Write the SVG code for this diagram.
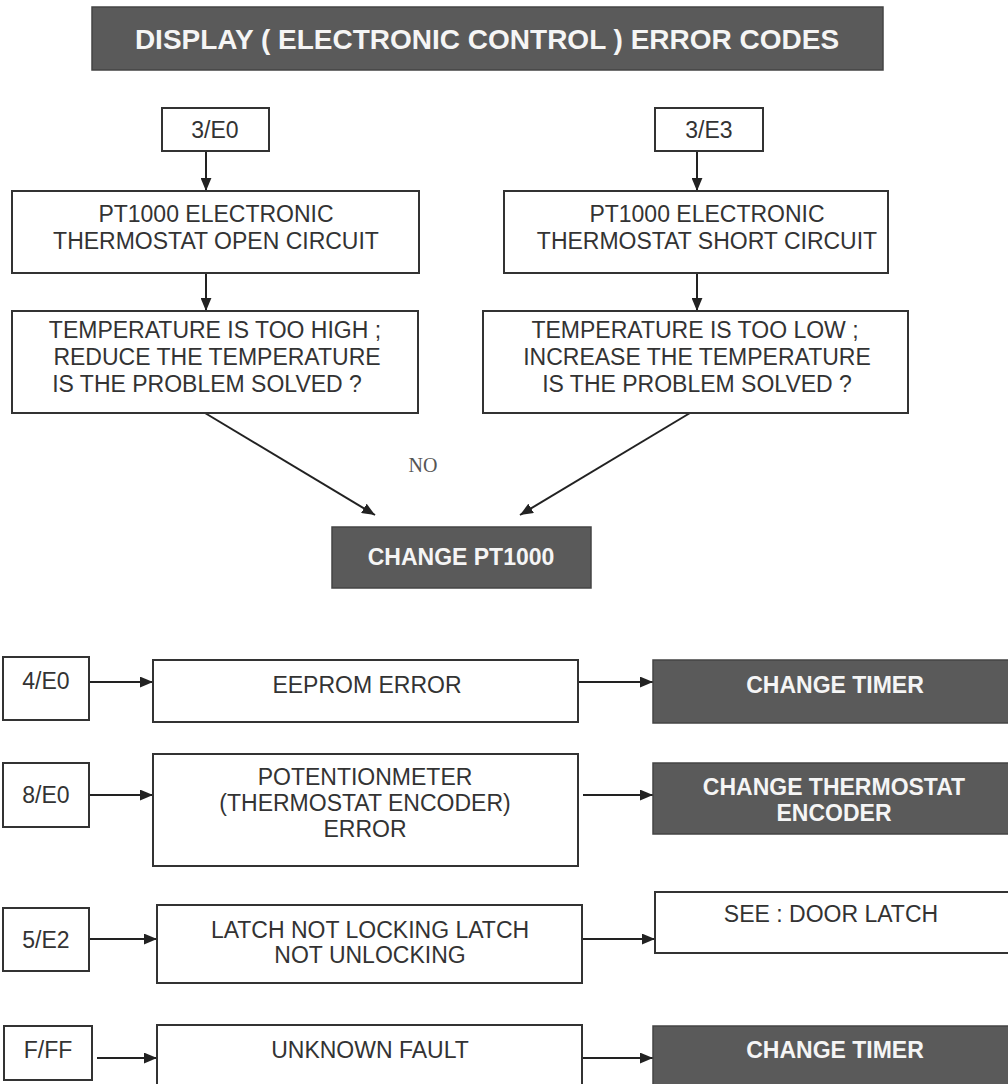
<svg xmlns="http://www.w3.org/2000/svg" width="1008" height="1084" viewBox="0 0 1008 1084">
<defs>
<style>
.box{fill:#fff;stroke:#333;stroke-width:2}
.dark{fill:#5a5a5a;stroke:#444;stroke-width:1.5}
.t{font-family:"Liberation Sans",Arial,sans-serif;font-size:23px;fill:#333;text-anchor:middle}
.w{font-family:"Liberation Sans",Arial,sans-serif;font-size:23px;font-weight:bold;fill:#f5f5f5;text-anchor:middle}
.c{fill:none;stroke:#222;stroke-width:2;marker-end:url(#ah)}
</style>
<marker id="ah" viewBox="0 0 12 10" refX="12" refY="5" markerWidth="13" markerHeight="11" markerUnits="userSpaceOnUse" orient="auto">
<path d="M0,0 L12,5 L0,10 z" fill="#222"/>
</marker>
</defs>
<rect width="1008" height="1084" fill="#fff"/>

<g id="title">
<rect class="dark" x="92" y="7" width="791" height="63"/>
<text class="w" x="487" y="49" style="font-size:28px">DISPLAY ( ELECTRONIC CONTROL ) ERROR CODES</text>
</g>

<g id="connectors">
<line class="c" x1="206" y1="151" x2="206" y2="191"/>
<line class="c" x1="206" y1="273" x2="206" y2="311"/>
<line class="c" x1="697" y1="151" x2="697" y2="191"/>
<line class="c" x1="697" y1="273" x2="697" y2="311"/>
<line class="c" x1="205" y1="413" x2="375" y2="515"/>
<line class="c" x1="690" y1="413" x2="520" y2="515"/>
<line class="c" x1="89" y1="682" x2="153" y2="682"/>
<line class="c" x1="578" y1="682" x2="653" y2="682"/>
<line class="c" x1="89" y1="795" x2="153" y2="795"/>
<line class="c" x1="583" y1="795" x2="653" y2="795"/>
<line class="c" x1="89" y1="939" x2="157" y2="939"/>
<line class="c" x1="582" y1="939" x2="655" y2="939"/>
<line class="c" x1="97" y1="1058" x2="157" y2="1058"/>
<line class="c" x1="582" y1="1058" x2="653" y2="1058"/>
<text x="423" y="472" style="font-family:'Liberation Serif','Times New Roman',serif;font-size:20px;fill:#555;text-anchor:middle">NO</text>
</g>

<g id="n-3e0">
<rect class="box" x="162" y="108" width="107" height="43"/>
<text class="t" x="215" y="138">3/E0</text>
</g>
<g id="n-open">
<rect class="box" x="12" y="191" width="407" height="82"/>
<text class="t" x="216" y="222">PT1000 ELECTRONIC</text>
<text class="t" x="216" y="249">THERMOSTAT OPEN CIRCUIT</text>
</g>
<g id="n-high">
<rect class="box" x="12" y="311" width="406" height="102"/>
<text class="t" x="215" y="338">TEMPERATURE IS TOO HIGH ;</text>
<text class="t" x="217" y="365">REDUCE THE TEMPERATURE</text>
<text class="t" x="207" y="392">IS THE PROBLEM SOLVED ?</text>
</g>

<g id="n-3e3">
<rect class="box" x="655" y="108" width="108" height="43"/>
<text class="t" x="709" y="138">3/E3</text>
</g>
<g id="n-short">
<rect class="box" x="504" y="191" width="384" height="82"/>
<text class="t" x="707" y="222">PT1000 ELECTRONIC</text>
<text class="t" x="707" y="249">THERMOSTAT SHORT CIRCUIT</text>
</g>
<g id="n-low">
<rect class="box" x="483" y="311" width="425" height="102"/>
<text class="t" x="695" y="338">TEMPERATURE IS TOO LOW ;</text>
<text class="t" x="697" y="365">INCREASE THE TEMPERATURE</text>
<text class="t" x="697" y="392">IS THE PROBLEM SOLVED ?</text>
</g>

<g id="n-pt1000">
<rect class="dark" x="332" y="527" width="259" height="61"/>
<text class="w" x="461" y="565">CHANGE PT1000</text>
</g>

<g id="n-4e0">
<rect class="box" x="3" y="657" width="86" height="63"/>
<text class="t" x="46" y="689">4/E0</text>
</g>
<g id="n-eeprom">
<rect class="box" x="153" y="660" width="425" height="62"/>
<text class="t" x="367" y="693">EEPROM ERROR</text>
</g>
<g id="n-timer1">
<rect class="dark" x="653" y="660" width="360" height="63"/>
<text class="w" x="835" y="693">CHANGE TIMER</text>
</g>

<g id="n-8e0">
<rect class="box" x="3" y="763" width="86" height="64"/>
<text class="t" x="46" y="803">8/E0</text>
</g>
<g id="n-pot">
<rect class="box" x="153" y="754" width="425" height="112"/>
<text class="t" x="365" y="785">POTENTIONMETER</text>
<text class="t" x="365" y="811">(THERMOSTAT ENCODER)</text>
<text class="t" x="365" y="837">ERROR</text>
</g>
<g id="n-encoder">
<rect class="dark" x="653" y="763" width="360" height="71"/>
<text class="w" x="834" y="795">CHANGE THERMOSTAT</text>
<text class="w" x="834" y="821">ENCODER</text>
</g>

<g id="n-5e2">
<rect class="box" x="3" y="908" width="86" height="63"/>
<text class="t" x="46" y="948">5/E2</text>
</g>
<g id="n-latch">
<rect class="box" x="157" y="905" width="425" height="78"/>
<text class="t" x="370" y="938">LATCH NOT LOCKING LATCH</text>
<text class="t" x="370" y="963">NOT UNLOCKING</text>
</g>
<g id="n-door">
<rect class="box" x="655" y="892" width="358" height="61"/>
<text class="t" x="831" y="922">SEE : DOOR LATCH</text>
</g>

<g id="n-fff">
<rect class="box" x="4" y="1026" width="88" height="54"/>
<text class="t" x="48" y="1058">F/FF</text>
</g>
<g id="n-unknown">
<rect class="box" x="157" y="1025" width="425" height="70"/>
<text class="t" x="370" y="1058">UNKNOWN FAULT</text>
</g>
<g id="n-timer2">
<rect class="dark" x="653" y="1026" width="360" height="70"/>
<text class="w" x="835" y="1058">CHANGE TIMER</text>
</g>
</svg>
